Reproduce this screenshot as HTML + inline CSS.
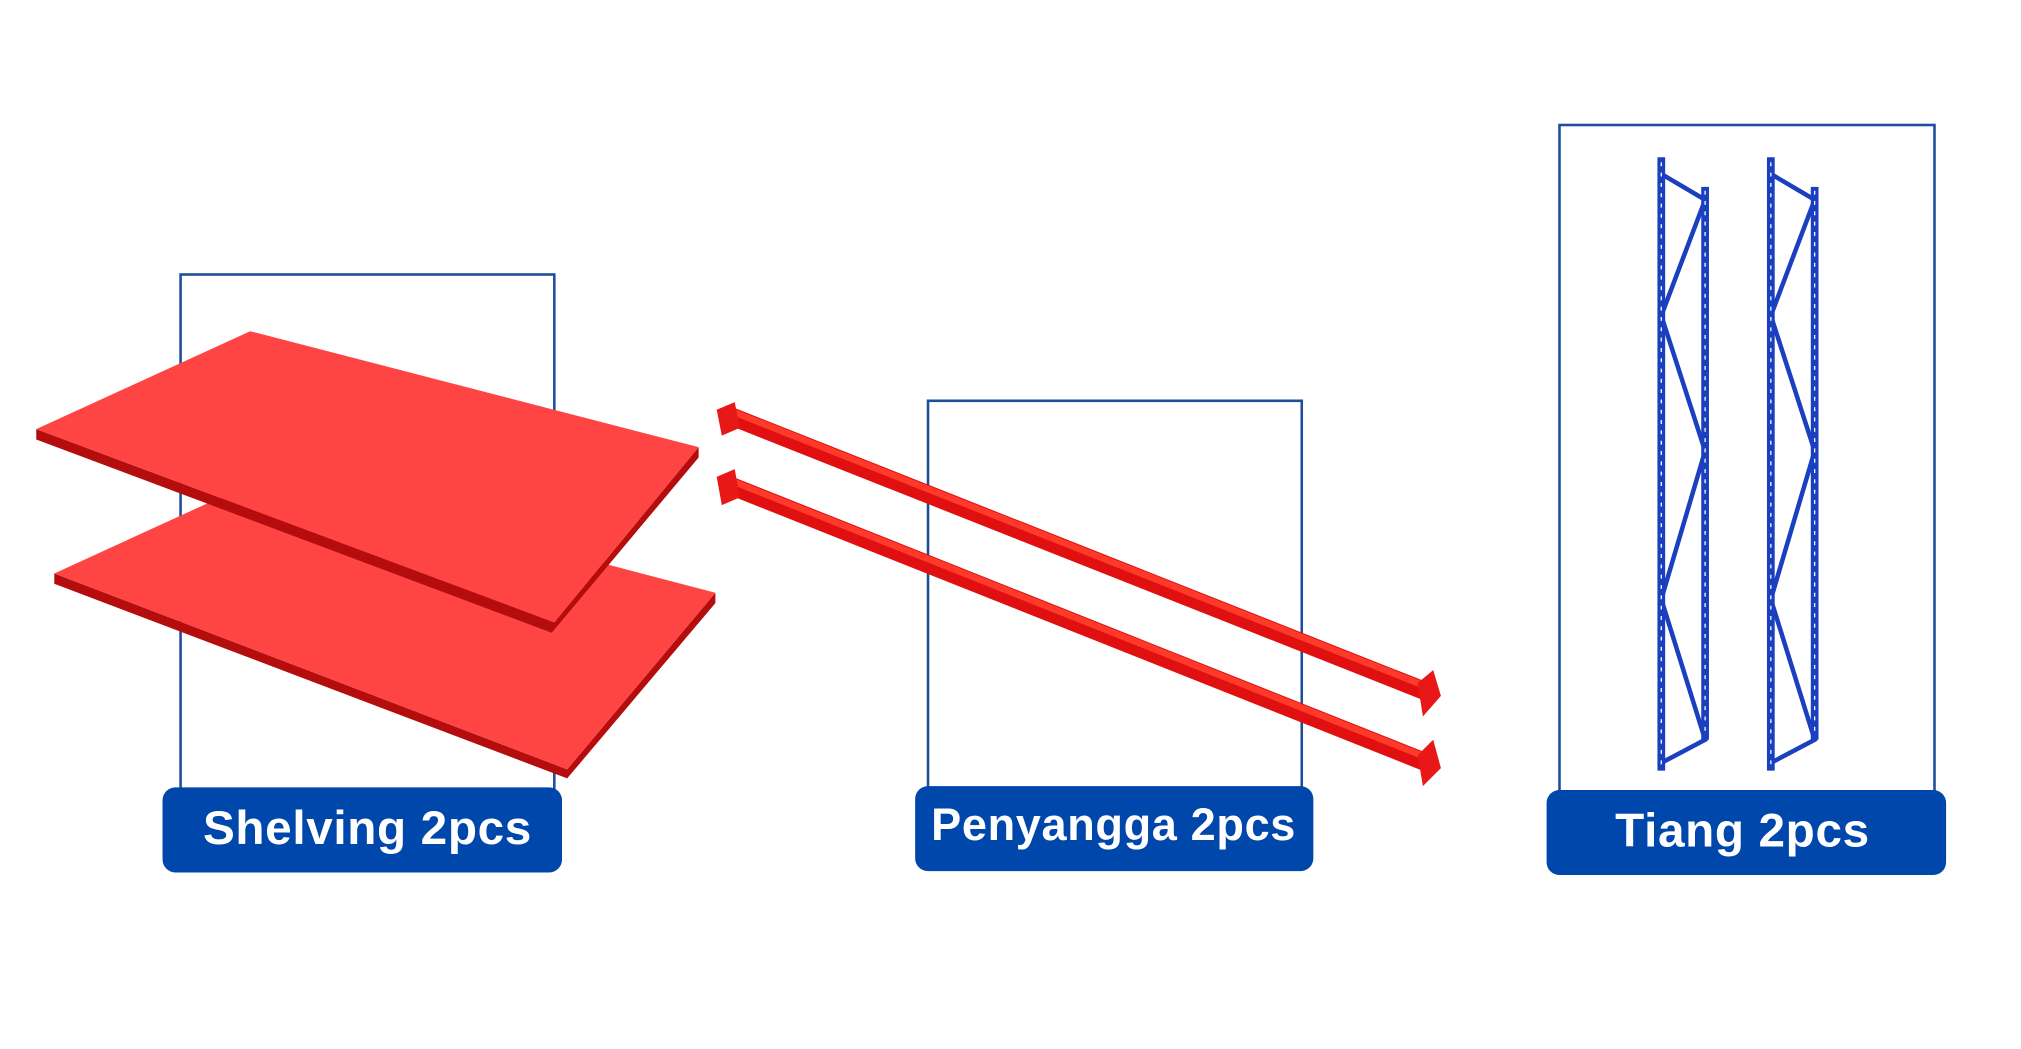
<!DOCTYPE html>
<html><head><meta charset="utf-8"><style>
html,body{margin:0;padding:0;background:#fff;}
svg{display:block}
</style></head><body>
<svg width="2021" height="1049" viewBox="0 0 1568 814" xmlns="http://www.w3.org/2000/svg">
<rect width="1568" height="814" fill="#fff"/>
<rect x="140" y="213" width="290" height="402" fill="none" stroke="#1f4e9c" stroke-width="2"/>
<rect x="720" y="311" width="290" height="304" fill="none" stroke="#1f4e9c" stroke-width="2"/>
<rect x="1210" y="97" width="291" height="518" fill="none" stroke="#1f4e9c" stroke-width="2"/>

<polygon points="42,445 42,453 440,604 555,468 555,460 440,597" fill="#b50d0d"/>
<polygon points="42,445 208,369 555,460 440,597" fill="#ff4444"/>
<polygon points="28,333 28,341 428,491 542,355 542,347 430,483" fill="#b50d0d"/>
<polygon points="28,333 194,257 542,347 430,483" fill="#ff4444"/>

<g stroke-linecap="butt">
<line x1="562" y1="321" x2="1110" y2="538" stroke="#e01010" stroke-width="14"/>
<line x1="562" y1="317" x2="1110" y2="534" stroke="#ff3a2a" stroke-width="5"/>
<line x1="562" y1="375" x2="1110" y2="593" stroke="#e01010" stroke-width="14"/>
<line x1="562" y1="371" x2="1110" y2="589" stroke="#ff3a2a" stroke-width="5"/>
</g>
<polygon points="556,318 570,312 574,332 560,338" fill="#e81818"/>
<polygon points="556,370 570,364 574,386 560,392" fill="#e81818"/>
<polygon points="1100,530 1112,520 1118,540 1104,556" fill="#e81818"/>
<polygon points="1100,586 1112,574 1118,596 1104,610" fill="#e81818"/>

<g fill="none" stroke="#1a3fbf">
<g stroke-width="6">
<line x1="1289" y1="122" x2="1289" y2="598"/>
<line x1="1323" y1="145" x2="1323" y2="574"/>
<line x1="1374" y1="122" x2="1374" y2="598"/>
<line x1="1408" y1="145" x2="1408" y2="574"/>
</g>
<polyline points="1289,135 1323,155 1289,245 1323,350 1289,465 1323,574 1289,592" stroke-width="3.5"/>
<polyline points="1374,135 1408,155 1374,245 1408,350 1374,465 1408,574 1374,592" stroke-width="3.5"/>
</g>
<g stroke="#fff" stroke-width="1" stroke-dasharray="3 5">
<line x1="1289" y1="126" x2="1289" y2="595"/><line x1="1323" y1="148" x2="1323" y2="571"/>
<line x1="1374" y1="126" x2="1374" y2="595"/><line x1="1408" y1="148" x2="1408" y2="571"/>
</g>

<rect x="126" y="611" width="310" height="66" rx="10" fill="#0047ab"/>
<rect x="710" y="610" width="309" height="66" rx="10" fill="#0047ab"/>
<rect x="1200" y="613" width="310" height="66" rx="10" fill="#0047ab"/>
<g fill="#fff" font-family="Liberation Sans, sans-serif" font-weight="bold" text-anchor="middle" letter-spacing="0.5">
<text x="285" y="655" font-size="37">Shelving 2pcs</text>
<text x="864" y="652" font-size="35">Penyangga 2pcs</text>
<text x="1352" y="657" font-size="37">Tiang 2pcs</text>
</g>
</svg>
</body></html>
